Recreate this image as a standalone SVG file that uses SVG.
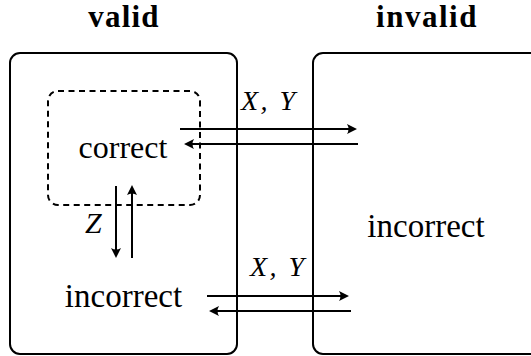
<svg xmlns="http://www.w3.org/2000/svg" width="531" height="356" viewBox="0 0 531 356">
<rect width="531" height="356" fill="#fff"/>
<text x="124" y="27" font-family="Liberation Serif" font-size="31" font-weight="bold" letter-spacing="1.2" text-anchor="middle">valid</text>
<text x="427" y="27" font-family="Liberation Serif" font-size="31" font-weight="bold" letter-spacing="1.5" text-anchor="middle">invalid</text>
<g id="valid">
<rect x="10" y="53" width="227" height="301" rx="10" fill="none" stroke="#000" stroke-width="2"/>
</g>
<g id="invalid">
<rect x="313" y="53" width="240" height="301" rx="10" fill="none" stroke="#000" stroke-width="2"/>
<text x="426" y="237" font-family="Liberation Serif" font-size="33" text-anchor="middle">incorrect</text>
</g>
<g id="correct">
<rect x="48" y="91" width="152" height="114" rx="10" fill="none" stroke="#000" stroke-width="2" stroke-dasharray="6,4.5"/>
<text x="123" y="158" font-family="Liberation Serif" font-size="32" text-anchor="middle">correct</text>
</g>
<g id="incorrect-valid">
<text x="123.5" y="307" font-family="Liberation Serif" font-size="33" text-anchor="middle">incorrect</text>
</g>
<g id="connectors">
<g stroke="#000" stroke-width="2">
<line x1="180" y1="129" x2="354" y2="129"/>
<line x1="358" y1="144" x2="187" y2="144"/>
<line x1="116" y1="186" x2="116" y2="255"/>
<line x1="132" y1="258" x2="132" y2="188"/>
<line x1="207" y1="296" x2="346" y2="296"/>
<line x1="351" y1="311" x2="212" y2="311"/>
</g>
<g fill="#000">
<path d="M357,129 L347,124 Q350,129 347,134 Z"/>
<path d="M184,144 L194,139 Q191,144 194,149 Z"/>
<path d="M116,258 L111,248 Q116,251 121,248 Z"/>
<path d="M132,185 L127,195 Q132,192 137,195 Z"/>
<path d="M349,296 L339,291 Q342,296 339,301 Z"/>
<path d="M209,311 L219,306 Q216,311 219,316 Z"/>
</g>
</g>
<text x="241" y="110" font-family="Liberation Serif" font-size="28" font-style="italic" letter-spacing="2.5">X, Y</text>
<text x="250" y="276" font-family="Liberation Serif" font-size="28" font-style="italic" letter-spacing="2.5">X, Y</text>
<text x="85" y="233" font-family="Liberation Serif" font-size="30" font-style="italic">Z</text>
</svg>
